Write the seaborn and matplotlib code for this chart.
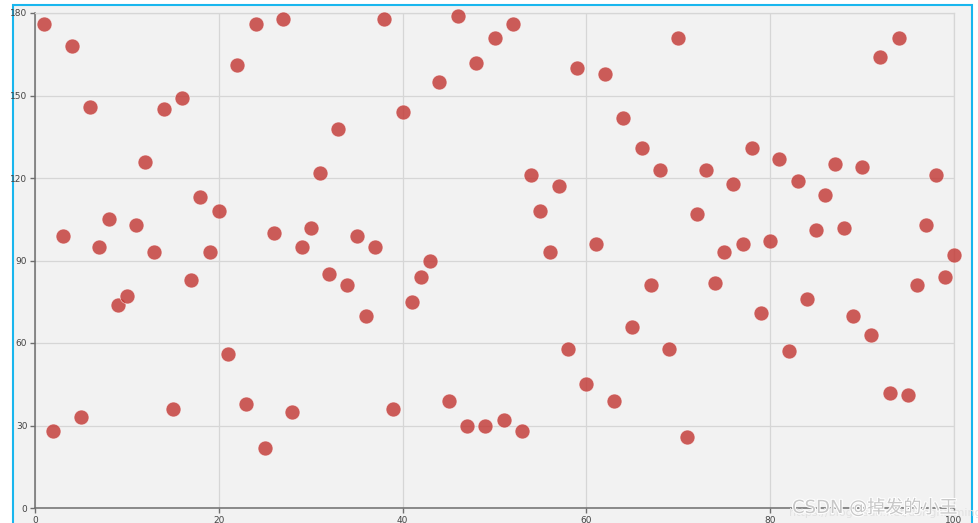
import matplotlib
matplotlib.use("Agg")
import matplotlib.pyplot as plt
import matplotlib.patheffects as pe
from matplotlib.patches import Rectangle
import seaborn as sns
import pandas as pd

x_values = list(range(1, 101))
y_values = [176, 28, 99, 168, 33, 146, 95, 105, 74, 77,
            103, 126, 93, 145, 36, 149, 83, 113, 93, 108,
            56, 161, 38, 176, 22, 100, 178, 35, 95, 102,
            122, 85, 138, 81, 99, 70, 95, 178, 36, 144,
            75, 84, 90, 155, 39, 179, 30, 162, 30, 171,
            32, 176, 28, 121, 108, 93, 117, 58, 160, 45,
            96, 158, 39, 142, 66, 131, 81, 123, 58, 171,
            26, 107, 123, 82, 93, 118, 96, 131, 71, 97,
            127, 57, 119, 76, 101, 114, 125, 102, 70, 124,
            63, 164, 42, 171, 41, 81, 103, 121, 84, 92]
x_ticks = [0, 20, 40, 60, 80, 100]
y_ticks = [0, 30, 60, 90, 120, 150, 180]

df = pd.DataFrame({"x": x_values, "y": y_values})

sns.set_theme(style="white")
plt.rcParams['font.family'] = ['DejaVu Sans', 'Noto Sans CJK SC']

W, H = 979, 523
fig = plt.figure(figsize=(W / 100, H / 100), dpi=100, facecolor="white")

# outer frame
fig.patches.append(Rectangle((13 / W, -0.02), (972 - 13) / W, 1.02 - 4.5 / H,
                             transform=fig.transFigure, facecolor="#f2f2f2",
                             edgecolor="#19b6ee", linewidth=1.5, zorder=-5))

ax = fig.add_axes([35 / W, (H - 508) / H, (954 - 35) / W, (508 - 13) / H])
ax.set_facecolor("#f2f2f2")

sns.scatterplot(data=df, x="x", y="y", ax=ax, s=115, color="#c23531", alpha=0.8,
                edgecolor="white", linewidth=0.4, zorder=3, legend=False,
                clip_on=False)

ax.set_xlim(0, 100)
ax.set_ylim(0, 180)
ax.set_xticks(x_ticks)
ax.set_yticks(y_ticks)
ax.set_xlabel("")
ax.set_ylabel("")
ax.grid(True, color="#d6d6d6", linewidth=0.9, zorder=0)
ax.set_axisbelow(True)
for s in ["top", "right"]:
    ax.spines[s].set_color("#d6d6d6")
    ax.spines[s].set_linewidth(0.9)
for s in ["left", "bottom"]:
    ax.spines[s].set_color("#6e6e6e")
    ax.spines[s].set_linewidth(1.1)
ax.tick_params(axis="both", direction="out", length=3.5, width=1, color="#6e6e6e",
               labelsize=6.5, labelcolor="#444444", pad=2)
ax.tick_params(axis="both", which="both", bottom=True, left=True)

# watermark
fig.text(789 / W, (H - 516) / H, "https://blog.csdn.net/donghaiming111", fontsize=8,
         color="#e2e2e2", ha="left", va="baseline", zorder=10)
fig.text(792 / W, (H - 513) / H, "CSDN @掉发的小王", fontsize=13,
         color="#c8c8c8", ha="left", va="baseline", zorder=11,
         path_effects=[pe.withStroke(linewidth=1.5, foreground="white")])

fig.savefig("out.png", dpi=100, facecolor="white")
